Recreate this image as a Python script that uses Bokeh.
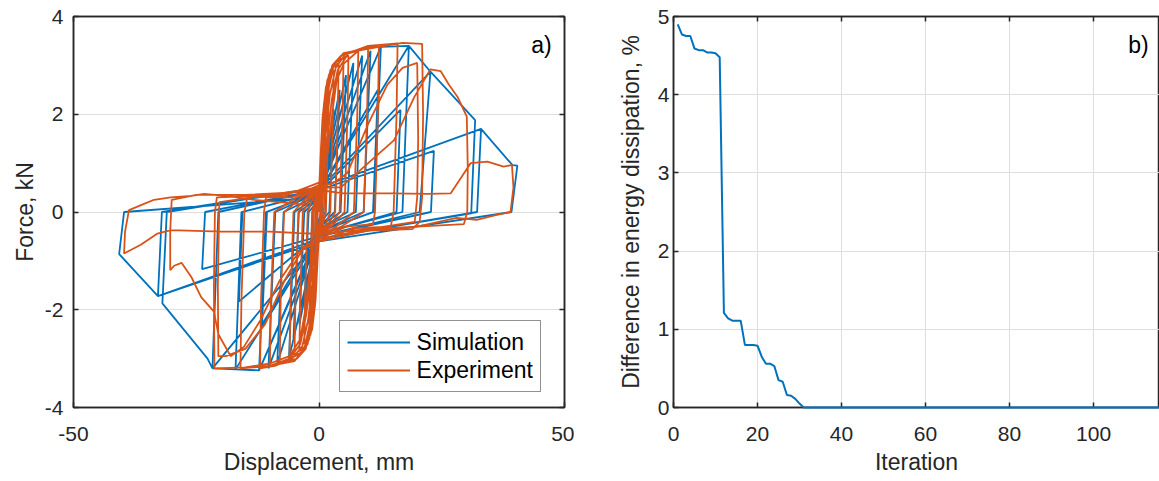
from bokeh.plotting import figure
from bokeh.layouts import row
from bokeh.models import FixedTicker, LinearAxis, Range1d, Label
from bokeh.embed import file_html
from bokeh.resources import INLINE

BLUE = "#0072BD"
ORANGE = "#D95319"
DARK = "#262626"
GRID = "#dedede"
FONT = "Liberation Sans"

# ---------------- data: panel a) ----------------
sim_x = [0,
    1.0, 0.6, 0, -1.0, -0.6, 0,
    2.0, 1.3, 0, -2.0, -1.3, 0,
    3.0, 2.1, 0, -3.0, -2.1, 0,
    4.2, 3.2, 0, -4.0, -3.0, 0,
    5.5, 4.4, 0, -5.2, -4.1, 0,
    7.0, 5.8, 0, -6.1, -5.0, 0,
    8.8, 7.5, 0, -8.5, -7.2, 0,
    10.5, 9.1, 0, -10.3, -8.9, 0,
    12.6, 11.2, 0, -12.2, -10.8, 0,
    12.0, 11.0, 0, -11.6, -10.6, 0,
    12.6, 18.3, 17.0, 0, -12.2, -17.0, -15.8, 0,
    16.6, 15.8, 0, -16.3, -15.6, 0,
    18.3, 22.7, 20.5, 0, -17.0, -21.7, -20.5, 0,
    23.4, 22.8, 0, -23.8, -23.2, 0,
    22.7, 31.8, 31.0, 0, -21.7, -22.7, -31.9, -31.0, 0,
    33.0, 32.2, 0, -32.8, -32.0, 0,
    33.0, 39.4, 40.4, 39.2, 0, -32.8, -40.7, -39.7, 0]
sim_f = [0,
    0.9, 0.0, -0.15, -0.85, 0.0, 0.15,
    1.6, 0.0, -0.2, -1.5, 0.0, 0.2,
    2.1, 0.0, -0.25, -1.9, 0.0, 0.25,
    2.5, 0.0, -0.3, -2.3, 0.0, 0.3,
    2.8, 0.0, -0.3, -2.6, 0.0, 0.3,
    3.05, 0.0, -0.35, -2.99, 0.0, 0.35,
    3.2, 0.0, -0.35, -3.1, 0.0, 0.35,
    3.3, 0.0, -0.4, -3.2, 0.0, 0.4,
    3.38, 0.0, -0.4, -3.24, 0.0, 0.4,
    2.5, 0.0, -0.4, -2.3, 0.0, 0.4,
    3.38, 3.40, 0.0, -0.45, -3.24, -3.22, 0.0, 0.4,
    2.09, 0.0, -0.45, -1.83, 0.0, 0.4,
    3.40, 2.87, 0.0, -0.5, -3.22, -3.20, 0.0, 0.45,
    1.25, 0.0, -0.5, -1.17, 0.0, 0.45,
    2.87, 1.88, -0.03, -0.55, -3.20, -3.0, -1.87, 0.0, 0.5,
    1.70, 0.0, -0.55, -1.72, 0.0, 0.5,
    1.70, 0.96, 0.95, 0.0, -0.6, -1.72, -0.86, 0.0, 0.3]

exp_x = [0,
    0.2, 0.4, 0.5, 0.35, 0.2, 0, -0.2, -0.4, -0.5, -0.35, -0.2, 0,
    0.3, 0.6, 1.0, 0.8, 0.6, 0.3, 0, -0.3, -0.6, -1.0, -0.8, -0.6, -0.3, 0,
    0.3, 0.7, 1.1, 1.5, 1.3, 1.0, 0.5, 0, -0.3, -0.7, -1.1, -1.5, -1.3, -1.0, -0.5, 0,
    0.3, 0.7, 1.2, 2.0, 1.8, 1.4, 0.7, 0, -0.3, -0.7, -1.2, -2.0, -1.8, -1.4, -0.7, 0,
    0.4, 0.8, 1.4, 2.2, 3.0, 2.8, 2.3, 1.2, 0, -0.4, -0.8, -1.4, -2.2, -3.0, -2.8, -2.3, -1.2, 0,
    0.5, 1.0, 1.7, 2.8, 4.0, 3.8, 3.3, 1.6, 0, -0.5, -1.0, -1.7, -2.8, -4.0, -3.8, -3.3, -1.6, 0,
    0.6, 1.2, 2.0, 3.2, 5.0, 4.8, 4.2, 2.0, 0, -0.6, -1.2, -2.0, -3.2, -5.0, -4.8, -4.2, -2.0, 0,
    0.7, 1.4, 2.3, 3.8, 6.0, 5.8, 5.2, 2.5, 0, -0.7, -1.4, -2.3, -3.8, -6.0, -5.8, -5.2, -2.5, 0,
    0.8, 1.6, 2.7, 4.5, 8.0, 7.8, 7.1, 3.5, 0, -0.8, -1.6, -2.7, -4.5, -8.0, -7.8, -7.1, -3.5, 0,
    1.0, 1.9, 3.0, 5.0, 10.0, 9.8, 9.1, 4.5, 0, -1.0, -1.9, -3.0, -5.0, -10.0, -9.8, -9.1, -4.5, 0,
    1.2, 2.2, 3.4, 5.5, 9.0, 12.2, 12.0, 11.4, 11.0, 5.5, 0,
    -1.2, -2.2, -3.4, -5.5, -9.0, -12.0, -11.8, -11.2, -10.8, -5.5, 0,
    1.5, 2.6, 3.8, 6.0, 10.0, 16.0, 15.8, 15.2, 14.6, 7.0, 0,
    -1.5, -2.6, -3.8, -6.0, -10.0, -16.0, -15.8, -15.2, -14.6, -7.0, 0,
    1.8, 2.8, 3.6, 5.1, 8.0, 12.2, 17.0, 21.0, 21.2, 21.0, 20.5, 19.0, 10.0, 0,
    -1.8, -2.8, -3.8, -6.0, -10.0, -15.0, -21.3, -21.4, -21.2, -20.8, -15.0, -8.0, 0,
    3.0, 5.8, 10.0, 13.9, 17.0, 20.0, 20.2, 20.0, 19.5, 10.0, 0,
    -3.0, -7.0, -11.0, -15.0, -19.0, -20.5, -20.6, -20.3, -10.0, 0,
    4.5, 9.9, 15.3, 19.4, 22.7, 24.8, 26.5, 28.2, 30.1, 30.3, 30.2, 29.5, 20.0, 10.0, 0,
    -4.0, -8.0, -11.9, -15.3, -18.0, -20.5, -21.4, -24.0, -26.0, -28.0, -29.5, -30.3,
    -30.3, -30.0, -25.0, -15.0, -5.0, 0,
    5.0, 15.0, 22.0, 26.8, 29.5, 30.9, 34.3, 37.6, 39.3, 39.6, 39.0, 36.2, 32.1, 28.0,
    20.0, 10.0, 0, -10.0, -20.0, -30.2, -32.9, -36.3, -39.7, -39.5, -38.7, -36.0,
    -33.6, -30.2, -26.0, -23.4, -18.0, -13.2, -8.0, -3.0]
exp_f = [0,
    0.5, 0.8, 0.9, 0.3, -0.15, -0.3, -0.55, -0.8, -0.85, -0.3, 0.15, 0.3,
    0.9, 1.4, 1.7, 0.9, 0.1, -0.25, -0.35, -0.9, -1.35, -1.6, -0.8, 0.1, 0.25, 0.35,
    1.0, 1.7, 2.05, 2.2, 1.2, 0.05, -0.3, -0.4, -1.0, -1.6, -1.9, -2.0, -1.0, 0.05, 0.3, 0.4,
    1.1, 1.9, 2.35, 2.6, 1.5, 0.0, -0.3, -0.45, -1.0, -1.8, -2.2, -2.4, -1.4, 0.0, 0.3, 0.45,
    1.2, 2.0, 2.55, 2.8, 2.9, 1.8, 0.0, -0.3, -0.45, -1.1, -1.9, -2.4, -2.6, -2.7, -1.6, 0.0, 0.3, 0.45,
    1.3, 2.2, 2.7, 2.95, 3.05, 1.9, 0.0, -0.3, -0.45, -1.2, -2.0, -2.5, -2.75, -2.85, -1.7, 0.0, 0.3, 0.45,
    1.4, 2.3, 2.8, 3.05, 3.15, 2.0, 0.0, -0.3, -0.45, -1.3, -2.1, -2.6, -2.85, -2.95, -1.8, 0.0, 0.3, 0.45,
    1.4, 2.4, 2.9, 3.1, 3.2, 2.0, 0.0, -0.3, -0.5, -1.3, -2.2, -2.7, -2.9, -3.0, -1.8, 0.0, 0.3, 0.5,
    1.5, 2.5, 3.0, 3.2, 3.3, 2.0, 0.0, -0.3, -0.5, -1.4, -2.3, -2.8, -3.0, -3.1, -1.8, 0.0, 0.3, 0.5,
    1.5, 2.5, 3.0, 3.25, 3.35, 2.0, 0.0, -0.3, -0.5, -1.4, -2.3, -2.8, -3.05, -3.15, -1.8, 0.0, 0.3, 0.5,
    1.4, 2.4, 2.95, 3.25, 3.35, 3.4, 2.0, 0.0, -0.25, -0.3, -0.55,
    -1.3, -2.2, -2.75, -3.0, -3.15, -3.2, -1.8, 0.0, 0.3, 0.3, 0.55,
    1.3, 2.3, 2.9, 3.25, 3.4, 3.45, 2.0, 0.0, -0.3, -0.33, -0.6,
    -1.2, -2.1, -2.7, -3.0, -3.15, -3.2, -1.8, 0.0, 0.3, 0.33, 0.6,
    1.2, 2.1, 2.7, 3.04, 3.3, 3.38, 3.46, 3.44, 2.0, 0.3, -0.2, -0.35, -0.38, -0.6,
    -1.1, -2.0, -2.6, -2.95, -3.1, -3.18, -3.2, -1.5, 0.0, 0.3, 0.32, 0.35, 0.5,
    0.6, 0.8, 1.8, 2.6, 2.95, 3.05, 1.5, 0.3, -0.2, -0.35, -0.55,
    -0.7, -1.4, -2.3, -2.8, -2.95, -2.95, -1.5, 0.2, 0.35, 0.5,
    0.51, 0.99, 1.47, 2.35, 2.92, 2.88, 2.6, 2.36, 1.95, 0.9, 0.0, -0.25, -0.3, -0.38, -0.6,
    -0.8, -1.4, -2.21, -2.76, -2.95, -2.5, -2.04, -1.74, -1.33, -1.04, -1.1, -1.19,
    -0.4, 0.25, 0.35, 0.35, 0.4, 0.45,
    0.38, 0.38, 0.37, 0.38, 0.79, 1.0, 1.03, 0.93, 0.96, 0.5, 0.0, -0.06, -0.16, -0.12,
    -0.3, -0.35, -0.45, -0.4, -0.4, -0.37, -0.44, -0.67, -0.85, -0.4, 0.04, 0.15,
    0.25, 0.3, 0.33, 0.37, 0.32, 0.25, 0.2, 0.15]

disp_ticks = [-50, 0, 50]
force_ticks = [-4, -2, 0, 2, 4]

# ---------------- data: panel b) ----------------
iteration = [1, 2, 3, 4, 5, 6, 7, 8, 9, 10, 11, 12, 13, 14, 15, 16, 17, 18, 19, 20,
             21, 22, 23, 24, 25, 26, 27, 28, 29, 30, 31, 120]
energy_diff = [4.90, 4.77, 4.75, 4.75, 4.59, 4.57, 4.57, 4.54, 4.54, 4.53, 4.48,
               1.21, 1.14, 1.11, 1.11, 1.11, 0.80, 0.80, 0.80, 0.79, 0.65, 0.56,
               0.56, 0.53, 0.35, 0.33, 0.16, 0.15, 0.11, 0.05, 0.0, 0.0]
iter_ticks = [0, 20, 40, 60, 80, 100]
diff_ticks = [0, 1, 2, 3, 4, 5]

TICK_FS = "21px"
LABEL_FS = "23px"


def style_main_axis(ax, ticks, standoff, label_standoff):
    ax.ticker = FixedTicker(ticks=ticks)
    ax.major_label_overrides = {t: str(t) for t in ticks}
    ax.major_label_text_font = FONT
    ax.major_label_text_font_size = TICK_FS
    ax.major_label_text_color = DARK
    ax.major_label_standoff = standoff
    ax.axis_label_text_font = FONT
    ax.axis_label_text_font_size = LABEL_FS
    ax.axis_label_text_font_style = "normal"
    ax.axis_label_text_color = DARK
    ax.axis_label_standoff = label_standoff
    ax.axis_line_color = DARK
    ax.axis_line_width = 1.5
    ax.major_tick_line_color = DARK
    ax.major_tick_line_width = 1.5
    ax.major_tick_in = 5
    ax.major_tick_out = 0
    ax.minor_tick_line_color = None


def add_mirror_axis(p, ticks, side):
    ax = LinearAxis(ticker=FixedTicker(ticks=ticks),
                    major_label_text_color=None,
                    major_label_text_font_size="10px",
                    major_label_overrides={t: "" for t in ticks},
                    major_label_standoff=0,
                    axis_line_color=DARK, axis_line_width=1.5,
                    major_tick_line_color=DARK, major_tick_line_width=1.5,
                    major_tick_in=5, major_tick_out=0,
                    minor_tick_line_color=None)
    p.add_layout(ax, side)


# ---------------- panel a) ----------------
p1 = figure(width=574, height=481, x_range=Range1d(-50, 50), y_range=Range1d(-4, 4),
            output_backend="svg", toolbar_location=None,
            min_border_left=73, min_border_right=10, min_border_top=16, min_border_bottom=74)
p1.background_fill_color = "white"
p1.border_fill_color = "white"
p1.outline_line_color = DARK
p1.outline_line_width = 1.5
style_main_axis(p1.xaxis[0], disp_ticks, 19, 5)
style_main_axis(p1.yaxis[0], force_ticks, 10, 4)
p1.xaxis[0].axis_label = "Displacement, mm"
p1.yaxis[0].axis_label = "Force, kN"
add_mirror_axis(p1, disp_ticks, "above")
add_mirror_axis(p1, force_ticks, "right")
p1.xgrid.ticker = FixedTicker(ticks=disp_ticks)
p1.ygrid.ticker = FixedTicker(ticks=force_ticks)
p1.xgrid.grid_line_color = GRID
p1.ygrid.grid_line_color = GRID

p1.line(sim_x, sim_f, line_color=BLUE, line_width=1.8, legend_label="Simulation")
p1.line(exp_x, exp_f, line_color=ORANGE, line_width=1.8, legend_label="Experiment")

lg = p1.legend[0]
lg.location = (265.6, 14.6)
lg.label_text_font = FONT
lg.label_text_font_size = "23px"
lg.label_text_color = "black"
lg.glyph_width = 63
lg.glyph_height = 28
lg.label_height = 28
lg.label_standoff = 7
lg.padding = 7
lg.spacing = 0
lg.margin = 0
lg.border_line_color = DARK
lg.border_line_width = 1
lg.background_fill_color = "white"
lg.background_fill_alpha = 1.0

p1.add_layout(Label(x=47.4, y=3.42, text="a)", text_align="right", text_baseline="middle",
                    text_font=FONT, text_font_size="23px", text_color="black"))

# ---------------- panel b) ----------------
p2 = figure(width=585, height=481, x_range=Range1d(0, 115.7), y_range=Range1d(0, 5),
            output_backend="svg", toolbar_location=None,
            min_border_left=99, min_border_right=0, min_border_top=16, min_border_bottom=74)
p2.background_fill_color = "white"
p2.border_fill_color = "white"
p2.outline_line_color = DARK
p2.outline_line_width = 1.5
style_main_axis(p2.xaxis[0], iter_ticks, 19, 5)
style_main_axis(p2.yaxis[0], diff_ticks, 4, 11)
p2.xaxis[0].axis_label = "Iteration"
p2.yaxis[0].axis_label = "Difference in energy dissipation, %"
add_mirror_axis(p2, iter_ticks, "above")
p2.xgrid.ticker = FixedTicker(ticks=iter_ticks)
p2.ygrid.ticker = FixedTicker(ticks=diff_ticks)
p2.xgrid.grid_line_color = GRID
p2.ygrid.grid_line_color = GRID

p2.line(iteration, energy_diff, line_color=BLUE, line_width=2, level="overlay")

p2.add_layout(Label(x=113.1, y=4.64, text="b)", text_align="right", text_baseline="middle",
                    text_font=FONT, text_font_size="23px", text_color="black"))

layout = row(p1, p2)
open("out.html", "w").write(file_html(layout, INLINE))
